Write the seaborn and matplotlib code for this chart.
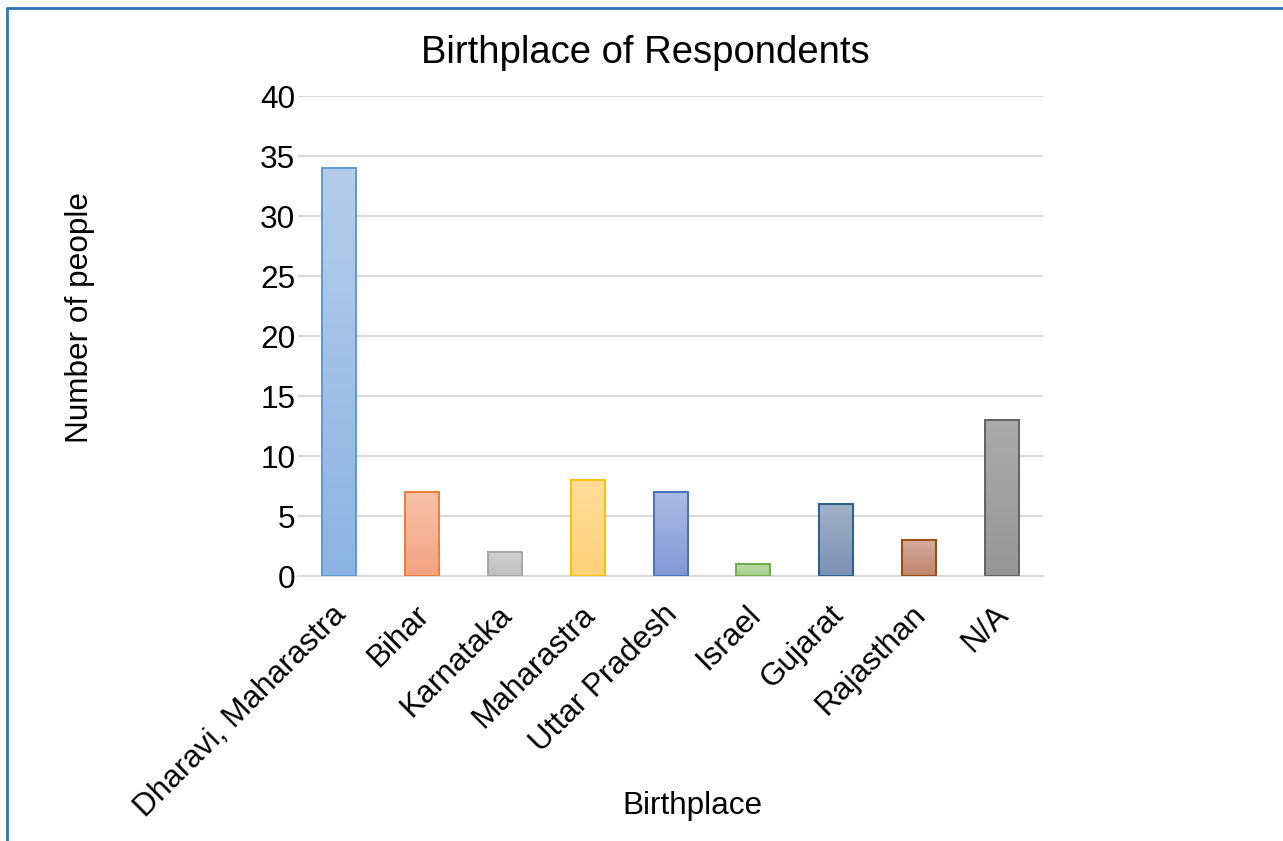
import numpy as np
import pandas as pd
import matplotlib
matplotlib.use("Agg")
import matplotlib.pyplot as plt
import matplotlib.colors as mcolors
import matplotlib.transforms as mtransforms
from matplotlib.lines import Line2D
import seaborn as sns

places = ["Dharavi, Maharastra", "Bihar", "Karnataka", "Maharastra",
          "Uttar Pradesh", "Israel", "Gujarat", "Rajasthan", "N/A"]
counts = [34, 7, 2, 8, 7, 1, 6, 3, 13]

# gradient colours per bar: (top, bottom, outline)
top_colors = ["#b5cdea", "#f7c2aa", "#d2d2d2", "#ffdc99",
              "#adbbe3", "#bad9a5", "#a2b1c8", "#d3ab9c", "#ababab"]
bottom_colors = ["#8db3e2", "#f4a281", "#bfbfbf", "#ffd27a",
                 "#8399d6", "#a6cf8d", "#7b91b5", "#c0846d", "#969696"]
edge_colors = ["#5b9bd5", "#ed7d31", "#a5a5a5", "#ffc000",
               "#4472c4", "#70ad47", "#255e91", "#9e480e", "#636363"]

df = pd.DataFrame({"Birthplace": places, "Number of people": counts})

sns.set_theme(style="white")
plt.rcParams["font.family"] = ["Liberation Sans", "DejaVu Sans"]
plt.rcParams["text.color"] = "black"

fig = plt.figure(figsize=(12.83, 8.41), dpi=100)
ax = fig.add_axes([0.2323, 0.3151, 0.5807, 0.5707])

sns.barplot(data=df, x="Birthplace", y="Number of people", ax=ax,
            width=0.41, color="white", saturation=1, zorder=3)

# fill each bar with a vertical gradient and outline it
for patch, c_top, c_bot, c_edge in zip(ax.patches, top_colors, bottom_colors, edge_colors):
    patch.set_edgecolor(c_edge)
    patch.set_linewidth(1.4)
    patch.set_facecolor("none")
    x0, y0 = patch.get_x(), patch.get_y()
    w, h = patch.get_width(), patch.get_height()
    cmap = mcolors.LinearSegmentedColormap.from_list("g", [c_bot, c_top])
    grad = np.linspace(0, 1, 256).reshape(-1, 1)
    im = ax.imshow(grad, cmap=cmap, origin="lower", aspect="auto",
                   extent=[x0, x0 + w, y0, y0 + h], zorder=2.5)
    im.set_clip_path(patch)

ax.set_xlim(-0.5, 8.5)
ax.set_ylim(0, 40)
ax.set_yticks(range(0, 41, 5))
ax.yaxis.grid(True, color="#d9d9d9", linewidth=1.5, zorder=0)
ax.set_axisbelow(True)
for side in ["top", "right", "left"]:
    ax.spines[side].set_visible(False)
ax.spines["bottom"].set_color("#d9d9d9")
ax.spines["bottom"].set_linewidth(1.5)
ax.spines["bottom"].set_zorder(1)

ax.tick_params(axis="both", length=0, labelsize=22.7, colors="black")
ax.tick_params(axis="y", pad=2)
ax.tick_params(axis="x", pad=12)
shift = mtransforms.ScaledTranslation(-8 / 100, -7 / 100, fig.dpi_scale_trans)
for lbl in ax.get_xticklabels():
    lbl.set_rotation(45)
    lbl.set_ha("right")
    lbl.set_rotation_mode("anchor")
    lbl.set_transform(lbl.get_transform() + shift)

ax.set_xlabel("")
ax.set_ylabel("")
fig.text(0.5394, 0.0416, "Birthplace", fontsize=22.7, ha="center", va="center")
fig.text(0.0624, 0.6219, "Number of people", fontsize=22.7, rotation=90,
         ha="center", va="center")
fig.text(0.5027, 0.9370, "Birthplace of Respondents", fontsize=27.5,
         ha="center", va="center")

# chart frame
fig.add_artist(Line2D([0.0054, 0.0054], [0, 0.9905], transform=fig.transFigure,
                      color="#2e75b6", linewidth=2))
fig.add_artist(Line2D([0.0054, 1.0], [0.9905, 0.9905], transform=fig.transFigure,
                      color="#2e75b6", linewidth=2))

fig.savefig("out.png", dpi=100)
